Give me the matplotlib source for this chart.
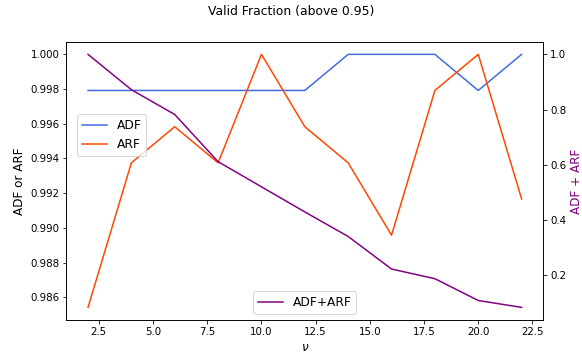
import matplotlib
matplotlib.use("Agg")
import matplotlib.pyplot as plt

# degrees of freedom
nu = [2, 4, 6, 8, 10, 12, 14, 16, 18, 20, 22]
adf = [0.99792, 0.99792, 0.99792, 0.99792, 0.99792, 0.99792,
       1.0, 1.0, 1.0, 0.99792, 1.0]
arf = [0.98542, 0.99375, 0.99583, 0.99375, 1.0, 0.99583,
       0.99375, 0.98958, 0.99792, 1.0, 0.99167]
adf_arf = [1.0, 0.872, 0.782, 0.611, 0.520, 0.429,
           0.340, 0.222, 0.187, 0.108, 0.083]

plt.rcParams["font.size"] = 10.2

fig = plt.figure(figsize=(582 / 72, 358 / 72), dpi=72)
ax = fig.add_axes([0.114, 0.106, 0.8195, 0.7775])
ax.plot(nu, adf, color="royalblue", label="ADF")
ax.plot(nu, arf, color="orangered", label="ARF")
ax.set_xlabel(r"$\nu$", fontsize=12)
ax.set_ylabel("ADF or ARF", fontsize=12)
ax.legend(loc="upper left", bbox_to_anchor=(0.023, 0.739), borderaxespad=0,
          fontsize=12.3)

ax2 = ax.twinx()
ax2.plot(nu, adf_arf, color="purple", label="ADF+ARF")
ax2.set_ylabel("ADF + ARF", color="purple", fontsize=12)
ax2.legend(loc="lower center", fontsize=12.3)

fig.suptitle("Valid Fraction (above 0.95)", y=0.985, fontsize=12.4)
fig.savefig("out.png", dpi=72)
